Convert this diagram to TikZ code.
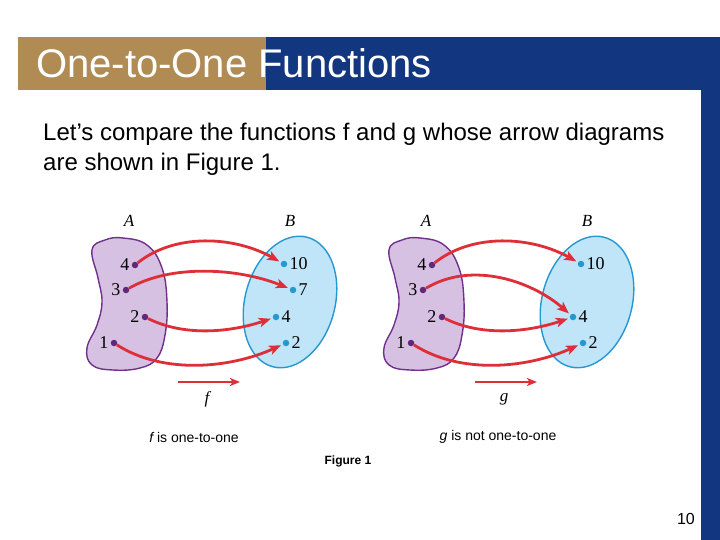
\documentclass[tikz,border=0pt]{standalone}
\usepackage{fontspec}
\setmainfont{Liberation Serif}
\newfontfamily\arialfont{Liberation Sans}
\usetikzlibrary{arrows.meta}
\definecolor{tanbar}{RGB}{176,140,84}
\definecolor{navybar}{RGB}{18,54,128}
\definecolor{setApurple}{RGB}{112,48,140}
\definecolor{setAfill}{RGB}{215,193,227}
\definecolor{setBblue}{RGB}{36,152,208}
\definecolor{setBfill}{RGB}{192,228,248}
\definecolor{mapred}{RGB}{222,46,56}
\begin{document}
\begin{tikzpicture} [
  x=1pt, y=-1pt,
  set A/.style= {draw=setApurple, fill=setAfill, line width=1.4pt},
  set B/.style= {draw=setBblue, fill=setBfill, line width=1.4pt},
  dot A/.style= {circle, fill=setApurple!85!black, inner sep=0, minimum size=6.5pt, label distance=3.5pt},
  dot B/.style= {circle, fill=setBblue, inner sep=0, minimum size=6.5pt, label distance=3pt},
  every label/.style= {inner sep=2pt, font=\fontsize{18}{20}\selectfont},
  set name/.style= {font=\fontsize{17}{18}\selectfont\itshape},
  maparrow/.style= {draw=mapred, line width=2.8pt, -{Stealth[length=12pt,width=9.5pt,inset=3pt]}, shorten >=2pt},
  sans text/.style= {anchor=base west, inner sep=0, font=\arialfont\fontsize{24}{26}\selectfont},
]
\useasboundingbox (0,0) rectangle (720,540);
% title bar
\fill[navybar] (266,37) rectangle (720,90);
\fill[navybar] (701,90) rectangle (720,540);
\fill[tanbar] (18,37) rectangle (266,90);
\node (title) [anchor=base west, inner sep=0, text=white, font=\arialfont\fontsize{40}{42}\selectfont] at (36,78) {One-to-One Functions};
\node (line1) [sans text] at (43,141) {Let’s compare the functions f and g whose arrow diagrams};
\node (line2) [sans text] at (43,171) {are shown in Figure 1.};

% the two arrow diagrams
\foreach \nm/\dx in {f/0, g/297} {
\begin{scope}[xshift=\dx pt]
  \draw[set A] plot[smooth cycle, tension=0.7] coordinates {(92,250) (105,240) (123,238) (147,245) (162,268) (167,302) (165,335) (157,358) (140,368) (113,370) (92,365) (87,348) (97,325) (102,302) (98,278)};
  \draw[set B, shift={(290,302)}, rotate=-15] (0,0) ellipse [x radius=45pt, y radius=67pt];
  \node (\nm A) [set name] at (129,221) {A};
  \node (\nm B) [set name] at (290,221) {B};
  \node (\nm a4) [dot A, label=left:4] at (135,265) {};
  \node (\nm a3) [dot A, label=left:3] at (126,290) {};
  \node (\nm a2) [dot A, label=left:2] at (145,317) {};
  \node (\nm a1) [dot A, label=left:1] at (114,343) {};
  \node (\nm b10) [dot B, label=right:10] at (284,264) {};
  \node (\nm b4) [dot B, label=right:4] at (276,317) {};
  \node (\nm b2) [dot B, label=right:2] at (286,343) {};
  \draw[maparrow] (\nm a4) .. controls +(40,-32) and +(-50,-28) .. (\nm b10);
  \draw[maparrow] (\nm a2) .. controls +(40,20) and +(-45,15) .. (\nm b4);
  \draw[maparrow] (\nm a1) .. controls +(50,32) and +(-55,25) .. (\nm b2);
  \coordinate (\nm s) at (178,382);
  \coordinate (\nm e) at (240,382);
  \draw[maparrow, line width=2.2pt, shorten >=0pt, -{Stealth[length=10pt,width=8pt,inset=2.5pt]}] (\nm s) -- (\nm e);
  \node (\nm name) [set name] at (207,399) {\nm};
\end{scope}
}
\node (fb7) [dot B, label=right:7] at (293,290) {};
\draw[maparrow] (fa3) .. controls +(45,-26) and +(-55,-22) .. (fb7);
\draw[maparrow] (ga3) .. controls +(50,-30) and +(-40,-35) .. (gb4);

% captions
\node (fcap) [font=\arialfont\fontsize{14}{16}\selectfont] at (194,437) {{\itshape f} is one-to-one};
\node (gcap) [font=\arialfont\fontsize{14}{16}\selectfont] at (498,437) {{\itshape g} is not one-to-one};
\node (fig) [font=\arialfont\bfseries\fontsize{12}{14}\selectfont] at (348,461) {Figure 1};
\node (page) [anchor=base east, inner sep=0, font=\arialfont\fontsize{16}{18}\selectfont] at (695,524) {10};
\end{tikzpicture}
\end{document}
